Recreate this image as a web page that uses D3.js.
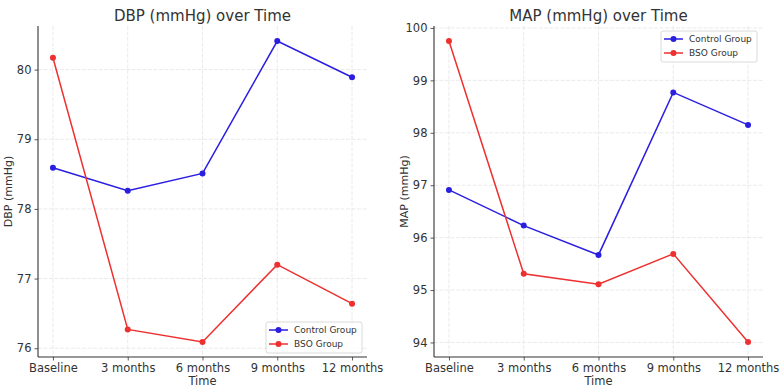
<!DOCTYPE html>
<html>
<head>
<meta charset="utf-8">
<script src="https://cdn.jsdelivr.net/npm/d3@7"></script>
<style>
  body { margin: 0; background: #fff; }
  text { font-family: "DejaVu Sans", sans-serif; fill: #333; }
</style>
</head>
<body>
<svg id="chart" width="784" height="392"></svg>
<script>
const timepoints = ["Baseline", "3 months", "6 months", "9 months", "12 months"];

const dbpControl = [78.59, 78.26, 78.51, 80.41, 79.89];
const dbpBso = [80.17, 76.27, 76.09, 77.20, 76.64];
const dbpTicks = [76, 77, 78, 79, 80];

const mapControl = [96.91, 96.23, 95.67, 98.77, 98.15];
const mapBso = [99.75, 95.31, 95.11, 95.69, 94.01];
const mapTicks = [94, 95, 96, 97, 98, 99, 100];

const seriesNames = ["Control Group", "BSO Group"];
const colors = ["#2a1ee0", "#ee3030"];

const svg = d3.select("#chart");

function drawPanel(opts) {
  const { left, right, top, bottom, title, yLabel, control, bso, ticks, legendPos } = opts;

  // matplotlib-style 5% margins
  const all = control.concat(bso);
  const lo = d3.min(all), hi = d3.max(all), pad = (hi - lo) * 0.05;

  const x = d3.scaleLinear().domain([-0.2, timepoints.length - 0.8]).range([left, right]);
  const y = d3.scaleLinear().domain([lo - pad, hi + pad]).range([bottom, top]);

  const g = svg.append("g");

  // grid
  g.append("g").selectAll("line.gx").data(timepoints).join("line")
    .attr("x1", (d, i) => x(i)).attr("x2", (d, i) => x(i))
    .attr("y1", top).attr("y2", bottom)
    .attr("stroke", "#e4e4e4").attr("stroke-width", 0.8).attr("stroke-dasharray", "4,1.5");
  g.append("g").selectAll("line.gy").data(ticks).join("line")
    .attr("x1", left).attr("x2", right)
    .attr("y1", d => y(d)).attr("y2", d => y(d))
    .attr("stroke", "#e4e4e4").attr("stroke-width", 0.8).attr("stroke-dasharray", "4,1.5");

  // axes
  const xAxis = g.append("g")
    .attr("transform", `translate(0,${bottom})`)
    .call(d3.axisBottom(x).tickValues(d3.range(timepoints.length)).tickFormat(i => timepoints[i]).tickSize(3.5).tickPadding(3));
  xAxis.select(".domain").attr("d", `M${left},0H${right}`);

  const yAxis = g.append("g")
    .attr("transform", `translate(${left},0)`)
    .call(d3.axisLeft(y).tickValues(ticks).tickFormat(d3.format("d")).tickSize(3.5).tickPadding(3));
  yAxis.select(".domain").attr("d", `M0,${top}V${bottom}`);

  [xAxis, yAxis].forEach(a => {
    a.selectAll(".domain").attr("stroke", "#333").attr("stroke-width", 1.1);
    a.selectAll(".tick line").attr("stroke", "#333").attr("stroke-width", 0.8);
    a.selectAll(".tick text").style("font-size", "11.5px").attr("fill", "#333");
  });

  // series
  const line = d3.line().x((d, i) => x(i)).y(d => y(d));
  [control, bso].forEach((vals, s) => {
    g.append("path").datum(vals)
      .attr("fill", "none").attr("stroke", colors[s]).attr("stroke-width", 1.5)
      .attr("d", line);
    g.append("g").selectAll("circle").data(vals).join("circle")
      .attr("cx", (d, i) => x(i)).attr("cy", d => y(d)).attr("r", 3)
      .attr("fill", colors[s]);
  });

  // titles
  g.append("text").attr("x", (left + right) / 2).attr("y", 21)
    .attr("text-anchor", "middle").style("font-size", "15px").text(title);
  g.append("text").attr("x", (left + right) / 2).attr("y", 385)
    .attr("text-anchor", "middle").style("font-size", "11.5px").text("Time");
  g.append("text")
    .attr("transform", `translate(${left - 26},${(top + bottom) / 2}) rotate(-90)`)
    .attr("text-anchor", "middle").style("font-size", "11px").text(yLabel);

  // legend
  const lw = 96, lh = 31;
  const lg = g.append("g").attr("transform", `translate(${legendPos[0]},${legendPos[1]})`);
  lg.append("rect").attr("width", lw).attr("height", lh).attr("rx", 2)
    .attr("fill", "#fff").attr("fill-opacity", 0.8).attr("stroke", "#d0d0d0").attr("stroke-width", 0.8);
  seriesNames.forEach((name, s) => {
    const yy = 8 + s * 14;
    lg.append("line").attr("x1", 3).attr("x2", 22).attr("y1", yy).attr("y2", yy)
      .attr("stroke", colors[s]).attr("stroke-width", 1.5);
    lg.append("circle").attr("cx", 12.5).attr("cy", yy).attr("r", 3).attr("fill", colors[s]);
    lg.append("text").attr("x", 28).attr("y", yy + 3.3).style("font-size", "9px").text(name);
  });
}

drawPanel({
  left: 38, right: 367, top: 26, bottom: 357,
  title: "DBP (mmHg) over Time", yLabel: "DBP (mmHg)",
  control: dbpControl, bso: dbpBso, ticks: dbpTicks,
  legendPos: [266, 322]
});

drawPanel({
  left: 434, right: 763, top: 26, bottom: 357,
  title: "MAP (mmHg) over Time", yLabel: "MAP (mmHg)",
  control: mapControl, bso: mapBso, ticks: mapTicks,
  legendPos: [661, 31]
});
</script>
</body>
</html>
